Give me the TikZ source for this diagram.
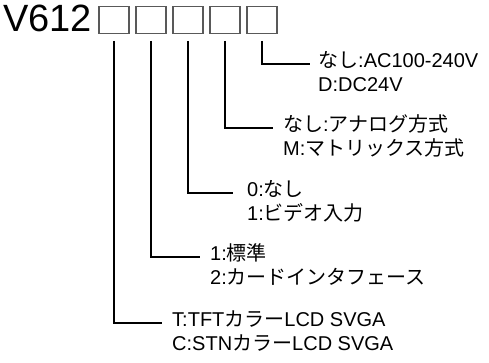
\documentclass[tikz,border=0pt]{standalone}
\usepackage{fontspec}
\setmainfont{Liberation Sans}
\newfontfamily\jp{Noto Sans CJK JP}
\begin{document}
\begin{tikzpicture}[x=1pt,y=-1pt,
  box/.style={draw=black!65,line width=1.6pt,minimum width=30pt,minimum height=27pt,inner sep=0pt},
  lbl/.style={anchor=west,inner sep=0pt,text height=7pt,text depth=-7pt,font=\fontsize{20}{24}\selectfont},
  conn/.style={line width=2pt,shorten <=6.5pt}]
\useasboundingbox (0,0) rectangle (489,363);
\node[anchor=base west,inner sep=0pt,font=\fontsize{38}{40}\selectfont] (title) at (3,32) {V612};
\node[box] (b1) at (114,20) {};
\node[box] (b2) at (151,20) {};
\node[box] (b3) at (188,20) {};
\node[box] (b4) at (225,20) {};
\node[box] (b5) at (262,20) {};
% labels
\node[lbl] (e1) at (318,64) {{\jp なし}:AC100-240V};
\node[lbl] (e2) at (318,88) {D:DC24V};
\node[lbl] (d1) at (283,128) {{\jp なし}:{\jp アナログ方式}};
\node[lbl] (d2) at (283,152) {M:{\jp マトリックス方式}};
\node[lbl] (c1) at (247,193) {0:{\jp なし}};
\node[lbl] (c2) at (247,217) {1:{\jp ビデオ入力}};
\node[lbl] (bb1) at (210,257) {1:{\jp 標準}};
\node[lbl] (bb2) at (210,281) {2:{\jp カードインタフェース}};
\node[lbl] (a1) at (172,323) {T:TFT{\jp カラー}LCD SVGA};
\node[lbl] (a2) at (172,347) {C:STN{\jp カラー}LCD SVGA};
% connectors
\draw[conn] (b5.south) |- ([xshift=-8pt]e1.west);
\draw[conn] (b4.south) |- ([xshift=-10pt]d1.west);
\draw[conn] (b3.south) |- ([xshift=-14pt]c1.west);
\draw[conn] (b2.south) |- ([xshift=-10pt]bb1.west);
\draw[conn] (b1.south) |- ([xshift=-10pt]a1.west);
\end{tikzpicture}
\end{document}
